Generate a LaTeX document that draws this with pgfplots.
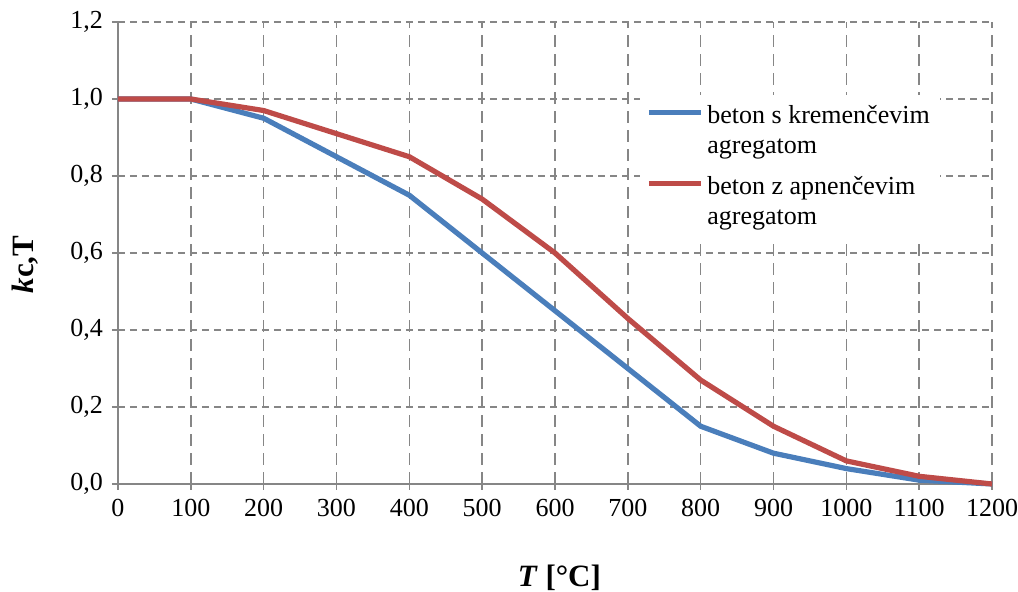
\documentclass[border=0pt]{standalone}
\usepackage{pgfplots}
\pgfplotsset{compat=1.18}
\usepackage{fontspec}
\setmainfont{Liberation Serif}
\definecolor{cblue}{RGB}{74,126,187}
\definecolor{cred}{RGB}{190,75,72}
\definecolor{cgrid}{RGB}{134,134,134}
\begin{document}
\fontsize{13}{15}\selectfont
\begin{tikzpicture}
\useasboundingbox (-59pt,-54pt) rectangle (450pt,242pt);
\begin{axis}[
  at={(0,0)}, anchor=south west,
  scale only axis,
  width=437pt, height=231pt,
  xmin=0, xmax=1200, ymin=0, ymax=1.2,
  xtick={0,100,...,1200},
  ytick={0,0.2,...,1.2},
  axis x line*=bottom, axis y line*=left,
  axis line style={cgrid, line width=0.75pt},
  tick style={cgrid, line width=0.75pt},
  tick align=outside,
  major tick length=3pt,
  grid=major,
  x grid style={cgrid, line width=0.75pt, dash pattern=on 6pt off 3.5pt},
  y grid style={cgrid, line width=0.75pt, dash pattern=on 3.5pt off 2.5pt},
  /pgf/number format/assume math mode=true,
  yticklabel style={/pgf/number format/.cd, fixed, fixed zerofill, precision=1, use comma},
  xticklabel style={/pgf/number format/.cd, fixed, 1000 sep={}},
  ticklabel style={font=\fontsize{13}{15}\selectfont},
  xlabel={\textbf{\textit{T} [°C]}},
  ylabel={\textbf{\textit{k}c,T}},
  label style={font=\fontsize{15.5}{18}\selectfont},
  xlabel style={at={(axis description cs:0.505,0)}, anchor=center, yshift=-47pt},
  ylabel style={at={(axis description cs:-0.1064,0.475)}, anchor=center},
  legend style={at={(0.597,0.842)}, anchor=north west, draw=none, fill=white,
    cells={align=left}, font=\fontsize{13}{15}\selectfont,
    row sep=5.5pt, inner sep=3pt},
  legend cell align=left,
  legend image code/.code={\path (0pt,-9.5pt); \draw[#1, line width=2.6pt] (0pt,9.5pt) -- (26pt,9.5pt);},
  clip=false,
]
\addplot[cblue, line width=2.6pt] coordinates {
(0,1) (100,1) (200,0.95) (300,0.85) (400,0.75) (500,0.60) (600,0.45)
(700,0.30) (800,0.15) (900,0.08) (1000,0.04) (1100,0.01) (1200,0)};
\addlegendentry{beton s kremenčevim\\agregatom}
\addplot[cred, line width=2.6pt] coordinates {
(0,1) (100,1) (200,0.97) (300,0.91) (400,0.85) (500,0.74) (600,0.60)
(700,0.43) (800,0.27) (900,0.15) (1000,0.06) (1100,0.02) (1200,0)};
\addlegendentry{beton z apnenčevim\\agregatom}
\end{axis}
\end{tikzpicture}
\end{document}
